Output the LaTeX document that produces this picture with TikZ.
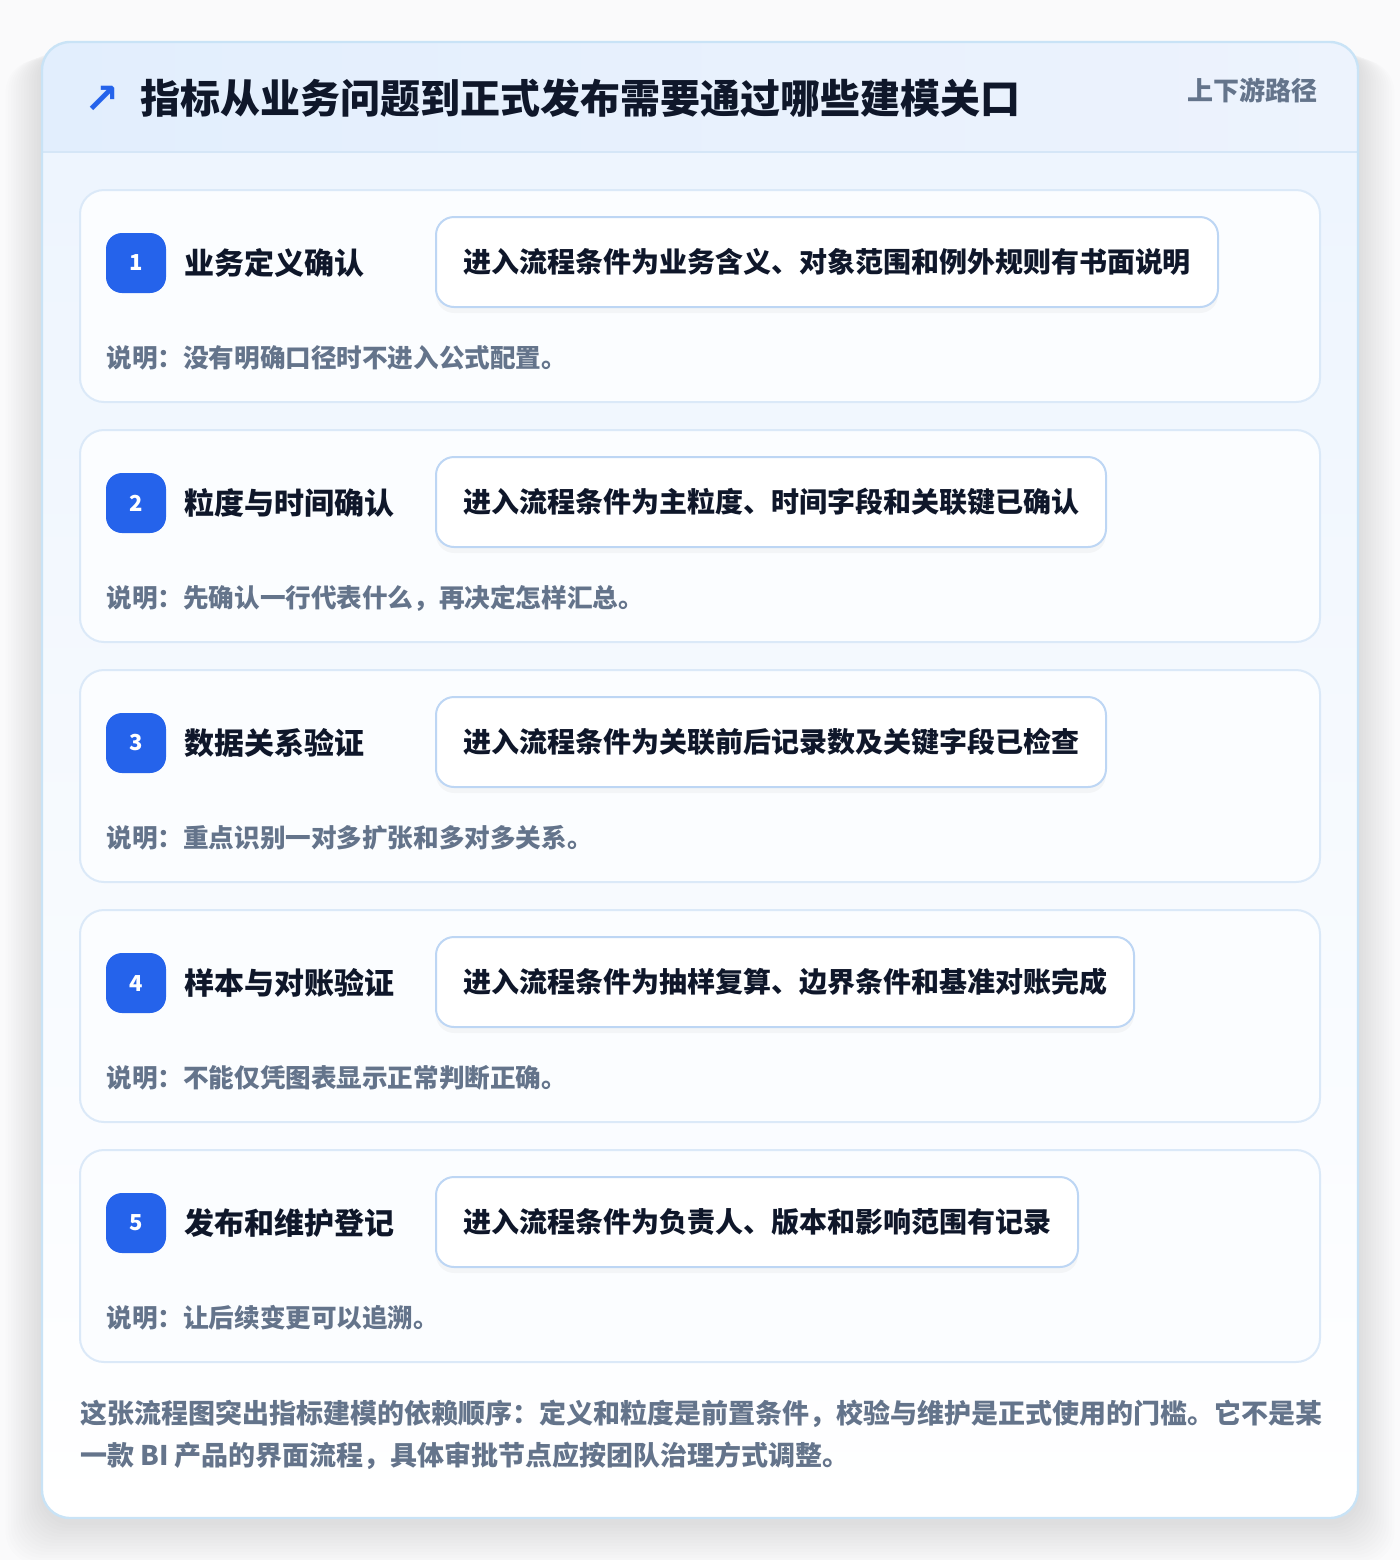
\documentclass[tikz,border=0pt]{standalone}
\usepackage{fontspec}
\setmainfont{Noto Sans CJK SC}
\newfontfamily\symfont{DejaVu Sans}
\usetikzlibrary{positioning}
\usetikzlibrary{shadows}

\definecolor{pagebg}{HTML}{FAFAFB}
\definecolor{cardline}{HTML}{C9E3F6}
\definecolor{hdrleft}{HTML}{E2EEFD}
\definecolor{hdrright}{HTML}{EDF3FD}
\definecolor{hdrline}{HTML}{D5E6F7}
\definecolor{stepline}{HTML}{DBE9F8}
\definecolor{stepfill}{HTML}{FBFDFF}
\definecolor{condline}{HTML}{BDD6F4}
\definecolor{accent}{HTML}{2563EB}
\definecolor{ink}{HTML}{0F172A}
\definecolor{muted}{HTML}{64748B}

\tikzset{
  stepcard/.style={draw=stepline,fill=stepfill,line width=1pt,rounded corners=12pt},
  badge/.style={fill=accent,text=white,rounded corners=8pt,minimum size=30pt,inner sep=0pt,font=\bfseries\fontsize{11}{13}\selectfont},
  steptitle/.style={anchor=west,inner sep=0pt,text=ink,font=\bfseries\fontsize{15}{18}\selectfont},
  condbox/.style={anchor=west,draw=condline,fill=white,line width=1pt,rounded corners=9pt,
    minimum height=45pt,inner xsep=13.5pt,text=ink,font=\bfseries\fontsize{14}{17}\selectfont,
    drop shadow={opacity=0.06,shadow xshift=0pt,shadow yshift=-3pt}},
  notetext/.style={anchor=west,inner sep=0pt,text=muted,font=\bfseries\fontsize{12.8}{15}\selectfont}
}

\begin{document}
\begin{tikzpicture}[x=0.5pt,y=-0.5pt]
\useasboundingbox[fill=pagebg] (0,0) rectangle (1400,1560);

% soft shadow of the main card
\foreach \s in {1,...,14}
  \fill[black,opacity=0.009,rounded corners=16pt] (42-2.6*\s,46+\s) rectangle (1358+2.6*\s,1522+3*\s);

% main card with header band
\fill[white,rounded corners=14pt] (42,42) rectangle (1358,1518);
\begin{scope}
  \clip[rounded corners=14pt] (42,42) rectangle (1358,1518);
  \shade[top color=white!40!hdrleft,bottom color=white] (42,152) rectangle (1358,1518);
  \shade[left color=hdrleft,right color=hdrright] (42,42) rectangle (1358,152);
  \draw[hdrline,line width=1pt] (42,152) -- (1358,152);
\end{scope}
\draw[cardline,line width=1.2pt,rounded corners=14pt] (42,42) rectangle (1358,1518);

\node[text=accent,inner sep=0pt,font=\symfont\bfseries\fontsize{21}{21}\selectfont] (icon) at (102,100) {↗};
\node[anchor=west,inner sep=0pt,text=ink,font=\bfseries\fontsize{20}{24}\selectfont] (title) at (140,98)
  {指标从业务问题到正式发布需要通过哪些建模关口};
\node[anchor=east,inner sep=0pt,text=muted,font=\bfseries\fontsize{13}{16}\selectfont] (route) at (1318,90)
  {上下游路径};

% the five gates
\foreach \i/\ttl/\cond/\note in {
  1/{业务定义确认}/{进入流程条件为业务含义、对象范围和例外规则有书面说明}/{没有明确口径时不进入公式配置。},
  2/{粒度与时间确认}/{进入流程条件为主粒度、时间字段和关联键已确认}/{先确认一行代表什么，再决定怎样汇总。},
  3/{数据关系验证}/{进入流程条件为关联前后记录数及关键字段已检查}/{重点识别一对多扩张和多对多关系。},
  4/{样本与对账验证}/{进入流程条件为抽样复算、边界条件和基准对账完成}/{不能仅凭图表显示正常判断正确。},
  5/{发布和维护登记}/{进入流程条件为负责人、版本和影响范围有记录}/{让后续变更可以追溯。}}{
  \pgfmathsetmacro\top{190+240*(\i-1)}
  \draw[stepcard] (80,\top) rectangle (1320,\top+212);
  \node[badge] (b\i) at (136,\top+73) {\i};
  \node[steptitle] (t\i) at (184,\top+73) {\ttl};
  \node[condbox] (c\i) at (435,\top+72) {\cond};
  \node[notetext] (n\i) at (106,\top+168) {说明：\note};
}

\node[anchor=north west,inner sep=0pt,align=left,text=muted,font=\bfseries\fontsize{13.5}{21}\selectfont] (footer) at (80,1400)
  {这张流程图突出指标建模的依赖顺序：定义和粒度是前置条件，校验与维护是正式使用的门槛。它不是某\\
   一款 BI 产品的界面流程，具体审批节点应按团队治理方式调整。};
\end{tikzpicture}
\end{document}
